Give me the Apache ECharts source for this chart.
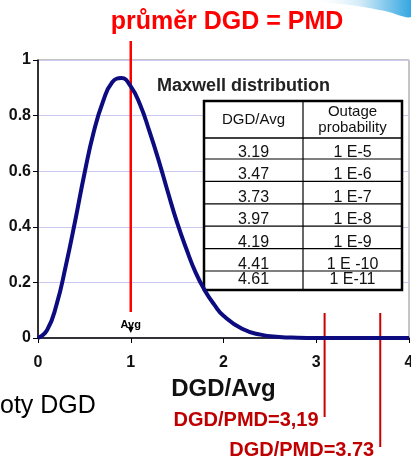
<!DOCTYPE html>
<html>
<head>
<meta charset="utf-8">
<script src="https://cdn.jsdelivr.net/npm/echarts@6/dist/echarts.min.js"></script>
<style>
html,body{margin:0;padding:0;background:#fff;}
#main{width:411px;height:456px;}
</style>
</head>
<body>
<div id="main"></div>
<script>
// krivka (DGD/Avg, hustota)
var curveX = [0,0.1,0.2,0.3,0.4,0.5,0.6,0.7,0.8,0.9,1.0,1.1,1.2,1.3,1.4,1.5,1.6,1.7,1.8,1.9,2.0,2.2,2.4,2.6,2.8,3.0,3.5,4.0];
var curveY = [0,0.03,0.12,0.26,0.42,0.59,0.74,0.85,0.92,0.935,0.905,0.84,0.745,0.64,0.525,0.415,0.32,0.235,0.17,0.12,0.08,0.033,0.012,0.004,0.001,0,0,0];
var xTicks = ['0','1','2','3','4'];
var yTicks = ['0','0.2','0.4','0.6','0.8','1'];
// tabulka
var tableHead = [['DGD/Avg'],['Outage','probability']];
var dgdAvg = ['3.19','3.47','3.73','3.97','4.19','4.41','4.61'];
var outage = ['1 E-5','1 E-6','1 E-7','1 E-8','1 E-9','1 E -10','1 E-11'];
// cervene znacky
var avgX = 1;
var pmdLines = [3.09, 3.69];
var pmdLabels = ['DGD/PMD=3,19','DGD/PMD=3,73'];

var FONT = 'Liberation Sans, Arial, sans-serif';
var chart = echarts.init(document.getElementById('main'));

var data = [];
for (var i = 0; i < curveX.length; i++) data.push([curveX[i], curveY[i]]);

var option = {
    animation: false,
    backgroundColor: '#fff',
    grid: {left: 38, right: 2, top: 60, bottom: 118, outerBoundsMode: 'none',
        show: true, borderColor: '#8a8a8a', borderWidth: 1},
    xAxis: {
        type: 'value', min: 0, max: 4, interval: 1,
        name: 'DGD/Avg', nameLocation: 'middle', nameGap: 39,
        nameTextStyle: {fontFamily: FONT, fontWeight: 'bold', fontSize: 24, color: '#111'},
        axisLine: {lineStyle: {color: '#000', width: 1.5}},
        axisTick: {show: true, length: 5, lineStyle: {color: '#000'}},
        axisLabel: {margin: 17, fontFamily: FONT, fontWeight: 'bold', fontSize: 16, color: '#111',
            formatter: function (v) { return xTicks[Math.round(v)]; }},
        splitLine: {show: false}
    },
    yAxis: {
        type: 'value', min: 0, max: 1, interval: 0.2,
        axisLine: {show: true, lineStyle: {color: '#000', width: 1.5}},
        axisTick: {show: true, length: 5, lineStyle: {color: '#000'}},
        axisLabel: {margin: 7, fontFamily: FONT, fontWeight: 'bold', fontSize: 16, color: '#111',
            formatter: function (v) { return yTicks[Math.round(v * 5)]; }},
        splitLine: {lineStyle: {color: '#c9c9f2', width: 1}}
    },
    series: [{
        type: 'line', data: data, smooth: true, showSymbol: false,
        lineStyle: {color: '#0c0c80', width: 4}
    }]
};
chart.setOption(option);

// grafika podle os
var g = [];
// modry oblouk vpravo nahore
g.push({
    type: 'polygon', silent: true,
    shape: {points: [[310, 0], [411, 0], [411, 17], [385, 11], [350, 5]], smooth: 0.3},
    style: {fill: new echarts.graphic.LinearGradient(0, 0, 1, 0, [
        {offset: 0, color: 'rgba(255,255,255,0)'},
        {offset: 0.5, color: '#cfe9f8'},
        {offset: 1, color: '#2aa3e0'}])}
});
g.push({type: 'text', x: 227, y: 22,
    style: {text: 'průměr DGD = PMD', font: 'bold 25px ' + FONT, fill: '#ff0000', align: 'center', verticalAlign: 'middle'}});
g.push({type: 'text', x: 157, y: 86,
    style: {text: 'Maxwell distribution', font: 'bold 18px ' + FONT, fill: '#222', verticalAlign: 'middle'}});
g.push({type: 'text', x: 0, y: 406,
    style: {text: 'oty DGD', font: '25px ' + FONT, fill: '#000', verticalAlign: 'middle'}});

// Avg cara
var pAvg = chart.convertToPixel({gridIndex: 0}, [avgX, 0]);
g.push({type: 'line', shape: {x1: pAvg[0], y1: 41, x2: pAvg[0], y2: 312},
    style: {stroke: '#ff0000', lineWidth: 2.5}});
g.push({type: 'text', x: pAvg[0], y: 325,
    style: {text: 'Avg', font: 'bold 11px ' + FONT, fill: '#000', align: 'center', verticalAlign: 'middle'}});
g.push({type: 'polygon', shape: {points: [[pAvg[0] - 3, 327], [pAvg[0] + 3, 327], [pAvg[0], 333]]},
    style: {fill: '#000'}});

// PMD cary
var ends = [417, 447];
for (var k = 0; k < pmdLines.length; k++) {
    var p = chart.convertToPixel({gridIndex: 0}, [pmdLines[k], 0]);
    g.push({type: 'line', shape: {x1: p[0], y1: 313, x2: p[0], y2: ends[k]},
        style: {stroke: '#cc0000', lineWidth: 2}});
    g.push({type: 'text', x: p[0] - 6, y: ends[k] + 3,
        style: {text: pmdLabels[k], font: 'bold 20px ' + FONT, fill: '#c00000', align: 'right', verticalAlign: 'middle'}});
}

// tabulka
var tL = 204, tR = 402, tT = 101, colX = 303, headB = 138, firstLine = 159, rowH = 22.4, tB = 290;
g.push({type: 'rect', shape: {x: tL, y: tT, width: tR - tL, height: tB - tT},
    style: {fill: '#fff', stroke: '#000', lineWidth: 2.5}});
g.push({type: 'line', shape: {x1: colX, y1: tT, x2: colX, y2: tB}, style: {stroke: '#000', lineWidth: 1.2}});
g.push({type: 'line', shape: {x1: tL, y1: headB, x2: tR, y2: headB}, style: {stroke: '#000', lineWidth: 1.5}});
g.push({type: 'text', x: (tL + colX) / 2, y: (tT + headB) / 2,
    style: {text: tableHead[0].join('\n'), font: '15px ' + FONT, fill: '#111', align: 'center', verticalAlign: 'middle'}});
g.push({type: 'text', x: (colX + tR) / 2, y: (tT + headB) / 2,
    style: {text: tableHead[1].join('\n'), font: '15px ' + FONT, fill: '#111', align: 'center', verticalAlign: 'middle', lineHeight: 16}});
for (var r = 0; r < dgdAvg.length; r++) {
    var last = r === dgdAvg.length - 1;
    var rowBot = last ? tB : firstLine + rowH * r;
    if (!last) {
        g.push({type: 'line', shape: {x1: tL, y1: rowBot, x2: tR, y2: rowBot}, style: {stroke: '#000', lineWidth: 1.2}});
    }
    var yc = rowBot - (last ? 10 : 6.5);
    g.push({type: 'text', x: (tL + colX) / 2, y: yc,
        style: {text: dgdAvg[r], font: '16px ' + FONT, fill: '#111', align: 'center', verticalAlign: 'middle'}});
    g.push({type: 'text', x: (colX + tR) / 2, y: yc,
        style: {text: outage[r], font: '16px ' + FONT, fill: '#111', align: 'center', verticalAlign: 'middle'}});
}
chart.setOption({graphic: g});
</script>
</body>
</html>
